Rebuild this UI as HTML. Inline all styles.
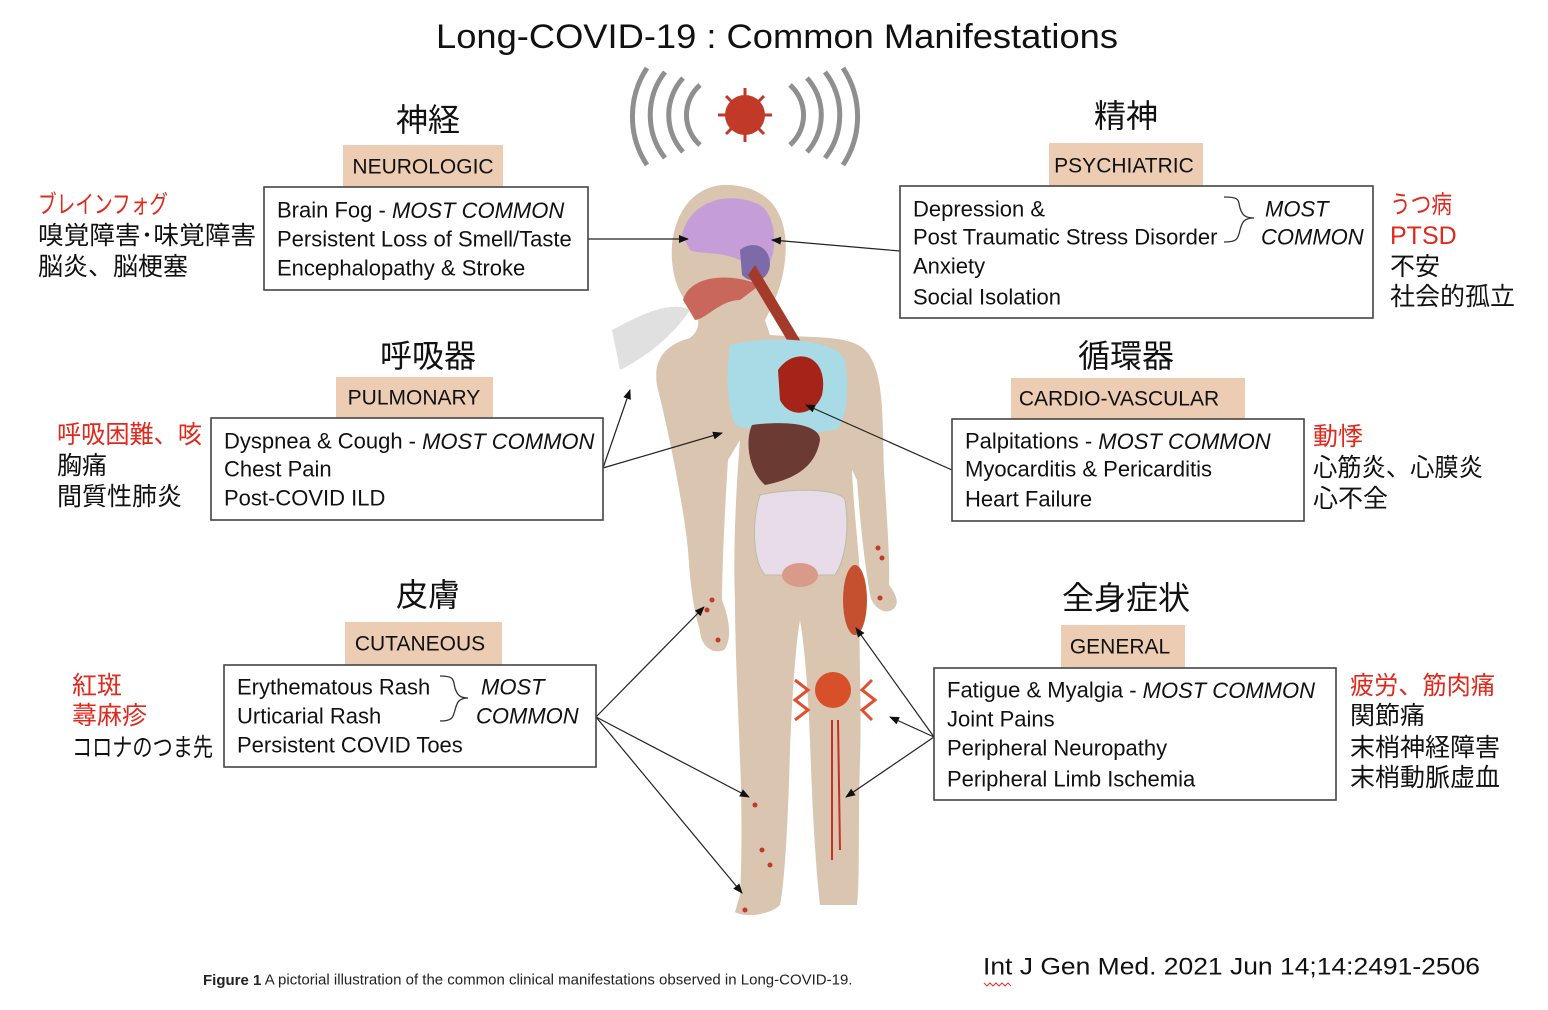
<!DOCTYPE html>
<html><head><meta charset="utf-8"><style>
html,body{margin:0;padding:0;background:#fff;}
svg{display:block;}
text{font-family:"Liberation Sans","Noto Sans CJK JP",sans-serif;}
.t{font-size:22px;fill:#111;dominant-baseline:central;}
.j{font-size:25px;fill:#111;dominant-baseline:central;}
.r{fill:#e0281c;}
.h{font-size:32px;fill:#111;dominant-baseline:central;text-anchor:middle;}
.g{font-size:21px;fill:#111;dominant-baseline:central;text-anchor:middle;}
.i{font-style:italic;}
.box{fill:#fff;stroke:#444;stroke-width:1.6;}
.tag{fill:#eccdb3;}
.ar{stroke:#222;stroke-width:1.2;fill:none;marker-end:url(#a);}
</style></head><body>
<svg width="1548" height="1010" viewBox="0 0 1548 1010" xmlns="http://www.w3.org/2000/svg">
<defs><marker id="a" markerWidth="10" markerHeight="8" refX="9" refY="4" orient="auto" markerUnits="userSpaceOnUse"><path d="M0,0 L10,4 L0,8 z" fill="#111"/></marker></defs>
<text x="436" y="37" textLength="682" lengthAdjust="spacingAndGlyphs" style="font-size:34px;fill:#111;dominant-baseline:central">Long-COVID-19 : Common Manifestations</text>

<!-- virus and waves -->
<g fill="none" stroke="#8f8f8f" stroke-width="5">
<path d="M700,85 A40,40 0 0 0 700,145"/><path d="M683,78 A55,55 0 0 0 683,152"/><path d="M665,72 A70,70 0 0 0 665,158"/><path d="M647,68 A88,88 0 0 0 647,165"/>
<path d="M790,85 A40,40 0 0 1 790,145"/><path d="M807,78 A55,55 0 0 1 807,152"/><path d="M825,72 A70,70 0 0 1 825,158"/><path d="M843,68 A88,88 0 0 1 843,165"/>
</g>
<g stroke="#c0392b" stroke-width="3"><path d="M745,88 V142 M718,115 H772 M726,96 L764,134 M764,96 L726,134"/></g>
<circle cx="745" cy="115" r="20" fill="#c13a28"/>

<!-- body -->
<path fill="#dac5b0" d="M725,185 C770,185 790,215 785,260 C782,290 770,310 765,320 L770,335 C815,338 850,335 865,350 C885,370 882,420 884,470 C887,520 890,560 889,585 C897,595 900,605 892,610 C882,615 872,605 870,595 C864,560 860,520 857,480 L852,470 C854,520 862,570 860,600 C858,640 862,700 860,760 C858,820 860,880 857,905 L820,905 C815,860 812,800 810,740 C808,690 805,650 800,620 C795,650 792,700 790,750 C788,820 785,880 780,905 C770,915 745,918 735,912 L740,895 C742,860 742,800 740,760 C738,700 735,650 735,600 C733,550 736,490 740,440 L728,460 C724,520 722,580 722,600 C730,620 732,640 724,650 C712,655 700,645 700,630 C693,610 690,580 688,550 C683,500 666,420 658,390 C651,360 665,345 690,338 C700,330 700,320 695,310 C680,300 670,275 672,245 C676,205 700,185 725,185 Z"/>
<!-- organs -->
<path d="M682,235 C690,200 730,190 760,205 C775,215 778,245 770,262 L745,262 C720,250 700,255 690,250 Z" fill="#c59ed8"/>
<path d="M740,250 C752,240 770,245 770,265 C768,282 752,285 742,275 Z" fill="#7d6aa8"/>
<path d="M683,300 C690,275 730,272 760,285 L740,300 C720,300 705,320 695,320 Z" fill="#c9685a"/>
<path d="M755,265 L800,340 L790,345 L748,275 Z" fill="#a33a2a"/>
<path d="M730,345 C770,335 835,338 845,360 C850,390 846,425 835,430 C800,436 760,434 735,425 C726,400 726,370 730,345 Z" fill="#a8dbe6"/>
<path d="M778,370 C795,345 830,355 822,395 C815,415 790,420 780,400 Z" fill="#a52318"/>
<path d="M752,425 C790,420 820,425 820,440 C815,470 790,480 765,485 C748,470 745,440 752,425 Z" fill="#6b3a33"/>
<path d="M760,495 C790,488 840,488 845,500 C850,530 845,560 835,575 L765,575 C752,560 752,520 760,495 Z" fill="#e8dce8" stroke="#bba" stroke-width="1"/>
<ellipse cx="800" cy="575" rx="18" ry="12" fill="#d99a8a"/>
<ellipse cx="855" cy="600" rx="12" ry="35" fill="#c55030"/>
<circle cx="833" cy="690" r="18" fill="#d8502a"/>
<path d="M832,720 L832,860 M838,720 L840,850" stroke="#c83020" stroke-width="2"/>
<g fill="#c0392b"><circle cx="878" cy="548" r="2.5"/><circle cx="882" cy="558" r="2.5"/><circle cx="712" cy="600" r="2.5"/><circle cx="707" cy="610" r="2.5"/><circle cx="718" cy="640" r="2.5"/><circle cx="755" cy="805" r="2.5"/><circle cx="770" cy="865" r="2.5"/><circle cx="745" cy="910" r="2.5"/><circle cx="880" cy="598" r="2.5"/><circle cx="762" cy="850" r="2.5"/></g>
<g fill="none" stroke="#e05030" stroke-width="3"><path d="M795,680 L808,690 L795,700 L808,710 L795,720"/><path d="M872,680 L862,690 L875,700 L862,710 L872,720"/></g>
<path d="M612,330 C640,315 670,300 690,310 C670,340 640,360 620,370 Z" fill="#ccc" opacity="0.6"/>

<!-- arrows -->
<path class="ar" d="M588,239 L688,239"/>
<path class="ar" d="M900,251 L772,240"/>
<path class="ar" d="M603,468 L630,390"/>
<path class="ar" d="M603,468 L722,433"/>
<path class="ar" d="M952,470 L806,405"/>
<path class="ar" d="M596,717 L704,607"/>
<path class="ar" d="M596,717 L749,797"/>
<path class="ar" d="M596,717 L742,893"/>
<path class="ar" d="M934,737 L856,628"/>
<path class="ar" d="M934,737 L890,717"/>
<path class="ar" d="M934,737 L846,797"/>

<!-- NEUROLOGIC -->
<text class="h" x="428" y="120">神経</text>
<rect class="tag" x="343" y="145" width="160" height="42"/>
<text class="g" x="423" y="167">NEUROLOGIC</text>
<rect class="box" x="264" y="187" width="324" height="103"/>
<text class="t" x="277" y="210">Brain Fog - <tspan class="i">MOST COMMON</tspan></text>
<text class="t" x="277" y="239">Persistent Loss of Smell/Taste</text>
<text class="t" x="277" y="268">Encephalopathy &amp; Stroke</text>
<text class="j r" x="38" y="205" textLength="130" lengthAdjust="spacingAndGlyphs">ブレインフォグ</text>
<text class="j" x="38" y="236" textLength="218" lengthAdjust="spacingAndGlyphs">嗅覚障害･味覚障害</text>
<text class="j" x="38" y="267">脳炎、脳梗塞</text>

<!-- PSYCHIATRIC -->
<text class="h" x="1126" y="116">精神</text>
<rect class="tag" x="1049" y="143" width="154" height="43"/>
<text class="g" x="1124" y="166">PSYCHIATRIC</text>
<rect class="box" x="900" y="186" width="473" height="132"/>
<text class="t" x="913" y="209">Depression &amp;</text>
<text class="t" x="913" y="237">Post Traumatic Stress Disorder</text>
<text class="t" x="913" y="266">Anxiety</text>
<text class="t" x="913" y="297">Social Isolation</text>
<path d="M1224,197 C1240,197 1238,200 1240,208 C1242,214 1244,218 1254,218 C1244,218 1242,222 1240,230 C1238,240 1236,242 1224,242" fill="none" stroke="#333" stroke-width="1.3"/>
<text class="t i" x="1265" y="209">MOST</text>
<text class="t i" x="1261" y="237">COMMON</text>
<text class="j r" x="1390" y="205" textLength="62" lengthAdjust="spacingAndGlyphs">うつ病</text>
<text class="j r" x="1390" y="236">PTSD</text>
<text class="j" x="1390" y="267">不安</text>
<text class="j" x="1390" y="297">社会的孤立</text>

<!-- PULMONARY -->
<text class="h" x="428" y="356">呼吸器</text>
<rect class="tag" x="336" y="377" width="157" height="41"/>
<text class="g" x="414" y="398">PULMONARY</text>
<rect class="box" x="211" y="418" width="392" height="102"/>
<text class="t" x="224" y="441">Dyspnea &amp; Cough - <tspan class="i">MOST COMMON</tspan></text>
<text class="t" x="224" y="469">Chest Pain</text>
<text class="t" x="224" y="498">Post-COVID ILD</text>
<text class="j r" x="57" y="435" textLength="145" lengthAdjust="spacingAndGlyphs">呼吸困難、咳</text>
<text class="j" x="57" y="466">胸痛</text>
<text class="j" x="57" y="497">間質性肺炎</text>

<!-- CARDIO -->
<text class="h" x="1126" y="356">循環器</text>
<rect class="tag" x="1011" y="378" width="234" height="41"/>
<text class="g" x="1119" y="399">CARDIO-VASCULAR</text>
<rect class="box" x="952" y="419" width="352" height="102"/>
<text class="t" x="965" y="441">Palpitations - <tspan class="i">MOST COMMON</tspan></text>
<text class="t" x="965" y="469">Myocarditis &amp; Pericarditis</text>
<text class="t" x="965" y="499">Heart Failure</text>
<text class="j r" x="1313" y="437">動悸</text>
<text class="j" x="1313" y="468" textLength="170" lengthAdjust="spacingAndGlyphs">心筋炎、心膜炎</text>
<text class="j" x="1313" y="499">心不全</text>

<!-- CUTANEOUS -->
<text class="h" x="428" y="595">皮膚</text>
<rect class="tag" x="345" y="622" width="157" height="43"/>
<text class="g" x="420" y="644">CUTANEOUS</text>
<rect class="box" x="224" y="665" width="372" height="102"/>
<text class="t" x="237" y="687">Erythematous Rash</text>
<text class="t" x="237" y="716">Urticarial Rash</text>
<text class="t" x="237" y="745">Persistent COVID Toes</text>
<path d="M440,676 C455,676 453,680 455,688 C457,694 459,698 468,698 C459,698 457,702 455,710 C453,718 452,721 440,721" fill="none" stroke="#333" stroke-width="1.3"/>
<text class="t i" x="481" y="687">MOST</text>
<text class="t i" x="476" y="716">COMMON</text>
<text class="j r" x="72" y="686">紅斑</text>
<text class="j r" x="72" y="716">蕁麻疹</text>
<text class="j" x="72" y="748" textLength="141" lengthAdjust="spacingAndGlyphs">コロナのつま先</text>

<!-- GENERAL -->
<text class="h" x="1126" y="598">全身症状</text>
<rect class="tag" x="1061" y="625" width="124" height="43"/>
<text class="g" x="1120" y="647">GENERAL</text>
<rect class="box" x="934" y="668" width="402" height="132"/>
<text class="t" x="947" y="690">Fatigue &amp; Myalgia - <tspan class="i">MOST COMMON</tspan></text>
<text class="t" x="947" y="719">Joint Pains</text>
<text class="t" x="947" y="748">Peripheral Neuropathy</text>
<text class="t" x="947" y="779">Peripheral Limb Ischemia</text>
<text class="j r" x="1350" y="686" textLength="145" lengthAdjust="spacingAndGlyphs">疲労、筋肉痛</text>
<text class="j" x="1350" y="716">関節痛</text>
<text class="j" x="1350" y="748">末梢神経障害</text>
<text class="j" x="1350" y="778">末梢動脈虚血</text>

<!-- caption -->
<text x="203" y="980" style="font-size:15px;fill:#222;dominant-baseline:central"><tspan font-weight="bold">Figure 1</tspan> A pictorial illustration of the common clinical manifestations observed in Long-COVID-19.</text>
<text x="983" y="967" textLength="497" lengthAdjust="spacingAndGlyphs" style="font-size:24px;fill:#111;dominant-baseline:central">Int J Gen Med. 2021 Jun 14;14:2491-2506</text>
<path d="M984,983 l3,3 l3,-3 l3,3 l3,-3 l3,3 l3,-3 l3,3 l3,-3 l3,3" fill="none" stroke="#d33" stroke-width="1"/>
</svg>
</body></html>
